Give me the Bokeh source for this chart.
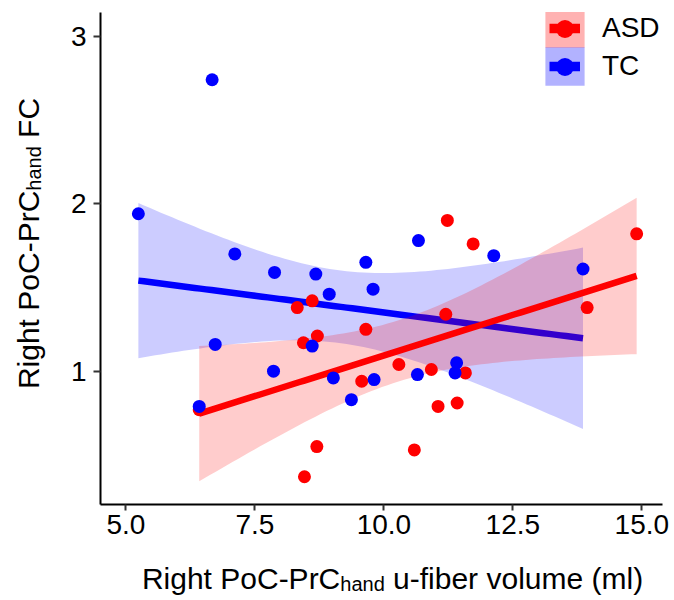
import numpy as np
from bokeh.plotting import figure
from bokeh.models import (ColumnDataSource, FixedTicker, Legend,
                          LegendItem, Range1d)
from bokeh.core.properties import value
from bokeh.embed import file_html
from bokeh.resources import INLINE

# ---------------- data ----------------
groups = ["ASD", "TC"]
asd_volume = [8.32, 8.61, 8.71, 8.44, 9.65, 9.57, 6.42, 8.70, 8.46, 10.29,
              11.23, 11.73, 14.90, 13.94, 11.20, 10.92, 11.58, 11.05, 11.42, 10.59]
asd_fc = [1.38, 1.42, 1.21, 1.17, 1.25, 0.94, 0.77, 0.55, 0.37, 1.04,
          1.90, 1.76, 1.82, 1.38, 1.34, 1.01, 0.99, 0.79, 0.81, 0.53]
tc_volume = [5.24, 6.67, 7.11, 7.88, 8.68, 9.65, 8.94, 9.79, 8.61, 6.73, 7.86,
             9.02, 9.81, 9.37, 6.42, 10.67, 12.13, 13.86, 10.65, 11.41, 11.38]
tc_fc = [1.94, 2.74, 1.70, 1.59, 1.58, 1.65, 1.46, 1.49, 1.15, 1.16, 1.00,
         0.96, 0.95, 0.83, 0.79, 1.78, 1.69, 1.61, 0.98, 1.05, 0.99]
x_ticks = [5.0, 7.5, 10.0, 12.5, 15.0]
x_tick_labels = ["5.0", "7.5", "10.0", "12.5", "15.0"]
y_ticks = [1, 2, 3]
y_tick_labels = ["1", "2", "3"]
# axis titles: (text, is_subscript, space_before)
x_title_parts = [("Right PoC-PrC", False, False), ("hand", True, False),
                 ("u-fiber volume (ml)", False, True)]
y_title_parts = [("Right PoC-PrC", False, False), ("hand", True, False),
                 ("FC", False, True)]
# two-sided 95% t quantiles for n-2 degrees of freedom (18 and 19)
t_crit = {"ASD": 2.1009, "TC": 2.0930}

RED = "#FF0000"
BLUE = "#0000FF"
FONT = "Liberation Sans"
X0, X1 = 4.506, 15.401
Y0, Y1 = 0.2042, 3.1415


def lm_band(x, y, t):
    x = np.asarray(x, float)
    y = np.asarray(y, float)
    n = len(x)
    b1, b0 = np.polyfit(x, y, 1)
    xs = np.linspace(x.min(), x.max(), 80)
    yhat = b0 + b1 * xs
    resid = y - (b0 + b1 * x)
    s = np.sqrt(np.sum(resid ** 2) / (n - 2))
    sxx = np.sum((x - x.mean()) ** 2)
    se = s * np.sqrt(1.0 / n + (xs - x.mean()) ** 2 / sxx)
    return dict(x=xs, y=yhat, lo=yhat - t * se, hi=yhat + t * se)


asd_fit = ColumnDataSource(lm_band(asd_volume, asd_fc, t_crit["ASD"]))
tc_fit = ColumnDataSource(lm_band(tc_volume, tc_fc, t_crit["TC"]))
asd_pts = ColumnDataSource(dict(x=asd_volume, y=asd_fc))
tc_pts = ColumnDataSource(dict(x=tc_volume, y=tc_fc))

p = figure(frame_width=562, frame_height=492,
           x_range=Range1d(X0, X1), y_range=Range1d(Y0, Y1),
           output_backend="svg", toolbar_location=None,
           min_border_left=100, min_border_right=12,
           min_border_top=12, min_border_bottom=96)
p.outline_line_color = None
p.grid.visible = False
p.background_fill_color = "white"

# TC smooth, then ASD smooth, then points
p.varea(x="x", y1="lo", y2="hi", source=tc_fit, fill_color=BLUE, fill_alpha=0.2)
p.line(x="x", y="y", source=tc_fit, line_color=BLUE, line_width=6.5)
p.varea(x="x", y1="lo", y2="hi", source=asd_fit, fill_color=RED, fill_alpha=0.2)
p.line(x="x", y="y", source=asd_fit, line_color=RED, line_width=6.5)
p.scatter(x="x", y="y", source=asd_pts, size=13, fill_color=RED, line_color=None)
p.scatter(x="x", y="y", source=tc_pts, size=13, fill_color=BLUE, line_color=None)

# legend: renderers holding a single NaN point, used only by legends
nan = float("nan")
common = dict(padding=0, margin=0, border_line_color=None,
              background_fill_alpha=0, label_text_font=FONT,
              label_text_font_size="28px", label_text_color="black",
              label_text_baseline="middle")
# frame-relative bottoms of the key boxes' legends and of the markers' legends
key_bottom = {"ASD": 451.8, "TC": 413.8}
mark_bottom = {"ASD": 453.5, "TC": 415.5}
line_items = []
marks = []
for name, col in zip(groups, [RED, BLUE]):
    q = p.quad(left=[nan], right=[nan], top=[nan], bottom=[nan], fill_color=col,
               fill_alpha=0.3, line_color=None)
    l = p.line(x=[nan], y=[nan], line_color=col, line_width=9.5)
    s = p.scatter(x=[nan], y=[nan], fill_color=col, line_color=None)
    # key background (area legend glyphs are inset by 10%)
    p.add_layout(Legend(items=[LegendItem(label="", renderers=[q])],
                        location=(440.1, key_bottom[name]), glyph_width=49,
                        glyph_height=48, label_height=48, label_width=0,
                        label_standoff=0, spacing=0, **common))
    line_items.append(LegendItem(label=name, renderers=[l]))
    marks.append((name, s))
# lines and labels
p.add_layout(Legend(items=line_items, location=(449, 419), glyph_width=31,
                    glyph_height=38, label_height=38, label_standoff=22,
                    spacing=0, **common))
# markers
for name, s in marks:
    p.add_layout(Legend(items=[LegendItem(label="", renderers=[s])],
                        location=(442, mark_bottom[name]), glyph_width=45,
                        glyph_height=45, label_height=45, label_width=0,
                        label_standoff=0, spacing=0, **common))

# axes
p.xaxis.ticker = FixedTicker(ticks=x_ticks)
p.xaxis.major_label_overrides = dict(zip(x_ticks, x_tick_labels))
p.yaxis.ticker = FixedTicker(ticks=y_ticks)
p.yaxis.major_label_overrides = dict(zip(y_ticks, y_tick_labels))
for ax in (p.xaxis[0], p.yaxis[0]):
    ax.axis_line_color = "black"
    ax.axis_line_width = 2
    ax.major_tick_line_color = "#333333"
    ax.major_tick_line_width = 2
    ax.major_tick_in = 0
    ax.minor_tick_line_color = None
    ax.major_label_text_font = FONT
    ax.major_label_text_font_size = "28px"
    ax.major_label_text_color = "black"
p.xaxis.major_tick_out = 6
p.yaxis.major_tick_out = 7
p.xaxis.major_label_standoff = 4
p.yaxis.major_label_standoff = 7

# axis titles with a subscript, built from text pieces anchored at the
# frame's bottom-left corner and placed with pixel offsets
W = {"R": 722, "i": 222, "g": 556, "h": 556, "t": 278, " ": 278, "P": 667,
     "o": 556, "C": 722, "-": 333, "r": 333, "a": 556, "n": 556, "d": 556,
     "u": 556, "f": 278, "b": 556, "e": 556, "v": 500, "l": 222, "m": 833,
     "(": 333, ")": 333, "F": 611}


def tw(s, size):
    return sum(W.get(c, 556) for c in s) / 1000.0 * size


TITLE = 30
SUB = 20
SUB_DROP = 5


def layout_parts(parts):
    out = []
    cur = 0.0
    for t, sub, gap in parts:
        size = SUB if sub else TITLE
        if gap:
            cur += tw(" ", TITLE)
        out.append((t, size, sub, cur))
        cur += tw(t, size)
    return out, cur


txt, xo, yo, ang, fs = [], [], [], [], []
# x title: centred 292px right of the frame's left edge
pieces, total = layout_parts(x_title_parts)
start = 292.0 - total / 2.0
for t, size, sub, pos in pieces:
    txt.append(t)
    xo.append(start + pos)
    yo.append(74 + (SUB_DROP if sub else 0))
    ang.append(0.0)
    fs.append(f"{size}px")
# y title: rotated, centred 261px above the frame's bottom edge
pieces, total = layout_parts(y_title_parts)
start = -(261.0 - total / 2.0)
for t, size, sub, pos in pieces:
    txt.append(t)
    xo.append(-72 + (SUB_DROP if sub else 0))
    yo.append(start - pos)
    ang.append(np.pi / 2)
    fs.append(f"{size}px")

titles = ColumnDataSource(dict(x=[X0] * len(txt), y=[Y0] * len(txt), text=txt,
                               xo=xo, yo=yo, angle=ang, fs=fs))
p.text(x="x", y="y", text="text", x_offset="xo", y_offset="yo", angle="angle",
       text_font_size="fs", source=titles, text_font=value(FONT),
       text_color="black", text_align="left", text_baseline="alphabetic",
       level="overlay")

open("out.html", "w").write(file_html(p, INLINE))
